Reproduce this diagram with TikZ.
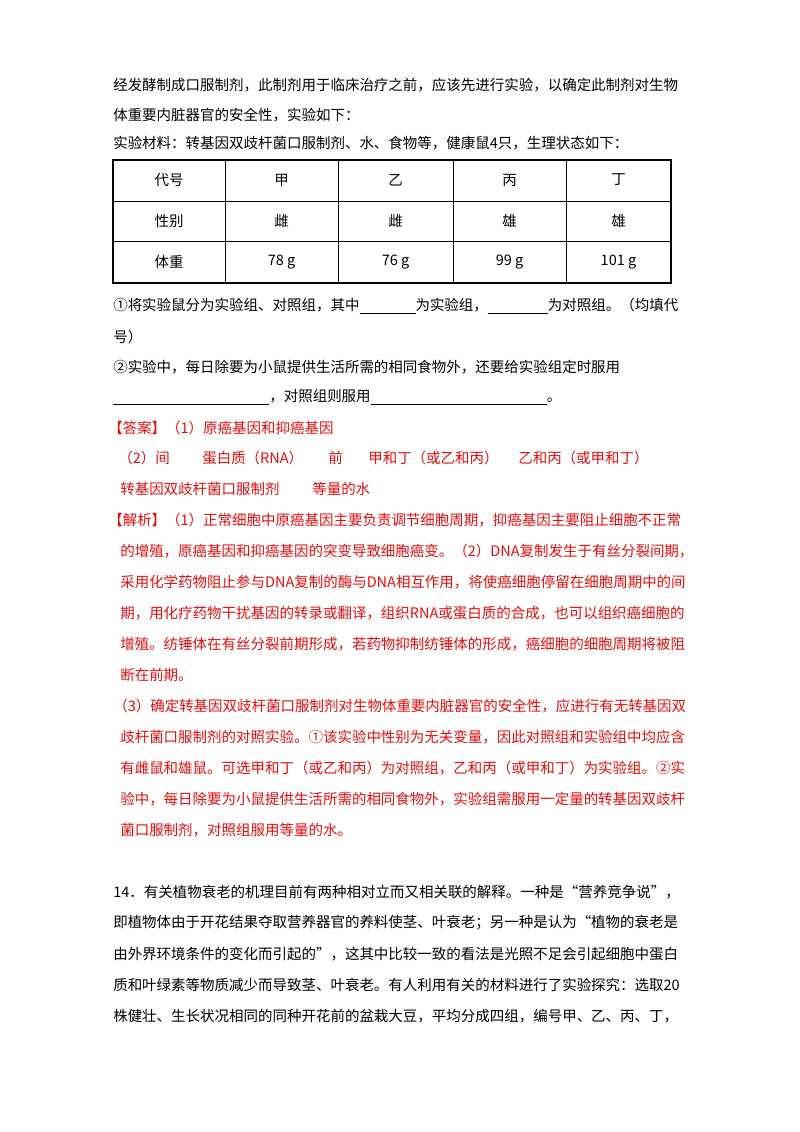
\documentclass[tikz,border=0pt]{standalone}
\usepackage{fontspec}
\setmainfont{Noto Sans CJK SC}
\XeTeXlinebreaklocale "zh"
\XeTeXlinebreakskip=0pt plus 3pt
\usetikzlibrary{positioning}
\definecolor{ansred}{rgb}{0.9,0.05,0.05}
\newlength\linew
\setlength\linew{14.35cm}
% a line of a paragraph, stretched to full width
\newcommand\fullline[1]{\makebox[\linew][s]{#1}}
\newcommand\blank[1]{\rule[-2pt]{#1}{0.6pt}}
\tikzset{
  txt/.style={anchor=west,inner sep=0pt,font=\fontsize{10.3pt}{12pt}\selectfont},
  red/.style={txt,text=ansred},
  cell/.style={inner sep=0pt,font=\fontsize{10.3pt}{12pt}\selectfont}
}
\begin{document}
\begin{tikzpicture}[x=0.025cm,y=-0.025cm]
  \useasboundingbox[fill=white] (0,0) rectangle (800,1132);
  \node[txt] (l1) at (113,85) {\fullline{经发酵制成口服制剂，此制剂用于临床治疗之前，应该先进行实验，以确定此制剂对生物}};
  \node[txt] (l2) at (113,115) {体重要内脏器官的安全性，实验如下：};
  \node[txt] (l3) at (113,143) {实验材料：转基因双歧杆菌口服制剂、水、食物等，健康鼠4只，生理状态如下：};

  % table
  \draw[line width=0.8pt] (113,160) rectangle (671,283);
  \foreach \y in {201,241}
    \draw[line width=0.6pt] (113,\y) -- (671,\y);
  \foreach \x in {225,338,453,566}
    \draw[line width=0.6pt] (\x,160) -- (\x,283);
  \foreach \t [count=\i] in {代号,甲,乙,丙,丁}
    \node[cell] (h\i) at ({\i==1 ? 169 : (\i==2 ? 281.5 : (\i==3 ? 395.5 : (\i==4 ? 509.5 : 618.5)))},180) {\t};
  \foreach \t [count=\i] in {性别,雌,雌,雄,雄}
    \node[cell] (s\i) at ({\i==1 ? 169 : (\i==2 ? 281.5 : (\i==3 ? 395.5 : (\i==4 ? 509.5 : 618.5)))},221) {\t};
  \foreach \t [count=\i] in {体重,78 g,76 g,99 g,101 g}
    \node[cell] (w\i) at ({\i==1 ? 169 : (\i==2 ? 281.5 : (\i==3 ? 395.5 : (\i==4 ? 509.5 : 618.5)))},262) {\t};

  \node[txt] (q1) at (113,306) {\makebox[14.4cm][s]{①将实验鼠分为实验组、对照组，其中\blank{1.4cm}为实验组，\blank{1.5cm}为对照组。（均填代}};
  \node[txt] (q2) at (113,337) {号）};
  \node[txt] (q3) at (113,367) {②实验中，每日除要为小鼠提供生活所需的相同食物外，还要给实验组定时服用};
  \node[txt] (q4) at (113,397) {\blank{3.9cm}，对照组则服用\blank{4.4cm}。};

  % answer
  \node[red] (a1) at (108,428) {【答案】（1）原癌基因和抑癌基因};
  \node[red] (a2) at (118,458) {（2）间};
  \node[red] (a3) at (202,458) {蛋白质（RNA）};
  \node[red] (a4) at (328,458) {前};
  \node[red] (a5) at (368,458) {甲和丁（或乙和丙）};
  \node[red] (a6) at (518,458) {乙和丙（或甲和丁）};
  \node[red] (a7) at (120,489) {转基因双歧杆菌口服制剂};
  \node[red] (a8) at (312,489) {等量的水};

  % analysis
  \node[red] (b1) at (108,520) {\makebox[14.48cm][s]{【解析】（1）正常细胞中原癌基因主要负责调节细胞周期，抑癌基因主要阻止细胞不正常}};
  \node[red] (b2) at (120,551) {\makebox[14.18cm][s]{的增殖，原癌基因和抑癌基因的突变导致细胞癌变。（2）DNA复制发生于有丝分裂间期，}};
  \node[red] (b3) at (120,582) {\makebox[14.18cm][s]{采用化学药物阻止参与DNA复制的酶与DNA相互作用，将使癌细胞停留在细胞周期中的间}};
  \node[red] (b4) at (120,613) {\makebox[14.18cm][s]{期，用化疗药物干扰基因的转录或翻译，组织RNA或蛋白质的合成，也可以组织癌细胞的}};
  \node[red] (b5) at (120,644) {\makebox[14.18cm][s]{增殖。纺锤体在有丝分裂前期形成，若药物抑制纺锤体的形成，癌细胞的细胞周期将被阻}};
  \node[red] (b6) at (120,675) {断在前期。};
  \node[red] (b7) at (113,706) {\makebox[14.35cm][s]{（3）确定转基因双歧杆菌口服制剂对生物体重要内脏器官的安全性，应进行有无转基因双}};
  \node[red] (b8) at (120,737) {\makebox[14.18cm][s]{歧杆菌口服制剂的对照实验。①该实验中性别为无关变量，因此对照组和实验组中均应含}};
  \node[red] (b9) at (120,768) {\makebox[14.18cm][s]{有雌鼠和雄鼠。可选甲和丁（或乙和丙）为对照组，乙和丙（或甲和丁）为实验组。②实}};
  \node[red] (b10) at (120,799) {\makebox[14.18cm][s]{验中，每日除要为小鼠提供生活所需的相同食物外，实验组需服用一定量的转基因双歧杆}};
  \node[red] (b11) at (120,830) {菌口服制剂，对照组服用等量的水。};

  % question 14
  \node[txt] (c1) at (113,892) {\fullline{14．有关植物衰老的机理目前有两种相对立而又相关联的解释。一种是“营养竞争说”，}};
  \node[txt] (c2) at (113,923) {\fullline{即植物体由于开花结果夺取营养器官的养料使茎、叶衰老；另一种是认为“植物的衰老是}};
  \node[txt] (c3) at (113,954) {\fullline{由外界环境条件的变化而引起的”，这其中比较一致的看法是光照不足会引起细胞中蛋白}};
  \node[txt] (c4) at (113,985) {\fullline{质和叶绿素等物质减少而导致茎、叶衰老。有人利用有关的材料进行了实验探究：选取20}};
  \node[txt] (c5) at (113,1016) {\fullline{株健壮、生长状况相同的同种开花前的盆栽大豆，平均分成四组，编号甲、乙、丙、丁，}};
\end{tikzpicture}
\end{document}
